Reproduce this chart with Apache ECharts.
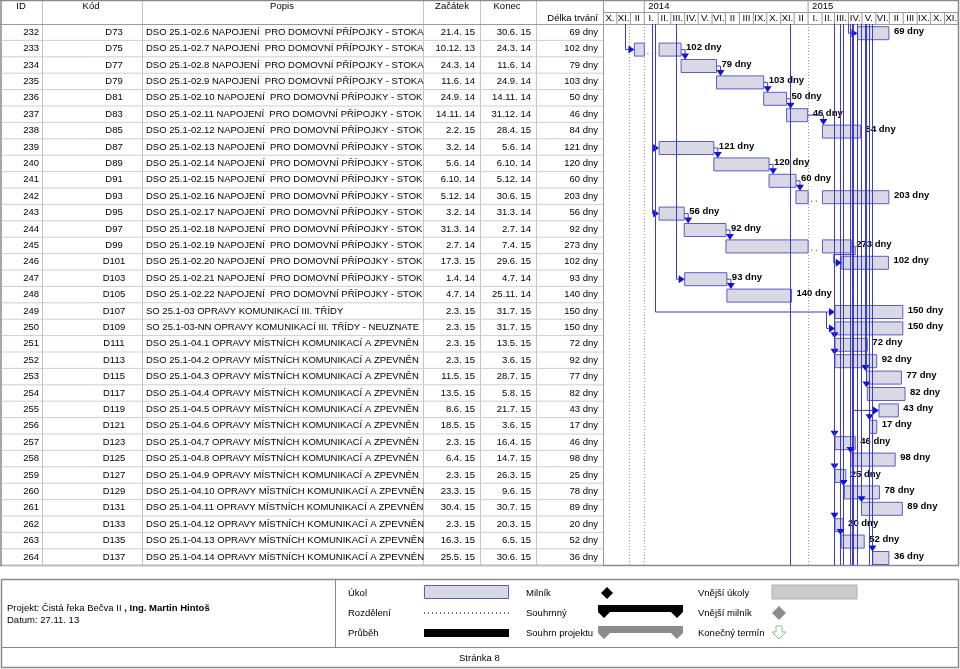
<!DOCTYPE html>
<html><head><meta charset="utf-8">
<script src="https://cdn.jsdelivr.net/npm/echarts@6/dist/echarts.min.js"></script>
<style>html,body{margin:0;padding:0;background:#fff}#c{width:960px;height:669px}</style>
</head><body><div id="c"></div>
<script>
// ---------------- DATA ----------------
const ids = [232,233,234,235,236,237,238,239,240,241,242,243,244,245,246,247,248,249,250,251,252,253,254,255,256,257,258,259,260,261,262,263,264];
const codes = ['D73','D75','D77','D79','D81','D83','D85','D87','D89','D91','D93','D95','D97','D99','D101','D103','D105','D107','D109','D111','D113','D115','D117','D119','D121','D123','D125','D127','D129','D131','D133','D135','D137'];
const names = [
 'DSO 25.1-02.6 NAPOJENÍ  PRO DOMOVNÍ PŘÍPOJKY - STOKA',
 'DSO 25.1-02.7 NAPOJENÍ  PRO DOMOVNÍ PŘÍPOJKY - STOKA',
 'DSO 25.1-02.8 NAPOJENÍ  PRO DOMOVNÍ PŘÍPOJKY - STOKA',
 'DSO 25.1-02.9 NAPOJENÍ  PRO DOMOVNÍ PŘÍPOJKY - STOKA',
 'DSO 25.1-02.10 NAPOJENÍ  PRO DOMOVNÍ PŘÍPOJKY - STOKA',
 'DSO 25.1-02.11 NAPOJENÍ  PRO DOMOVNÍ PŘÍPOJKY - STOKA',
 'DSO 25.1-02.12 NAPOJENÍ  PRO DOMOVNÍ PŘÍPOJKY - STOKA',
 'DSO 25.1-02.13 NAPOJENÍ  PRO DOMOVNÍ PŘÍPOJKY - STOKA',
 'DSO 25.1-02.14 NAPOJENÍ  PRO DOMOVNÍ PŘÍPOJKY - STOKA',
 'DSO 25.1-02.15 NAPOJENÍ  PRO DOMOVNÍ PŘÍPOJKY - STOKA',
 'DSO 25.1-02.16 NAPOJENÍ  PRO DOMOVNÍ PŘÍPOJKY - STOKA',
 'DSO 25.1-02.17 NAPOJENÍ  PRO DOMOVNÍ PŘÍPOJKY - STOKA',
 'DSO 25.1-02.18 NAPOJENÍ  PRO DOMOVNÍ PŘÍPOJKY - STOKA',
 'DSO 25.1-02.19 NAPOJENÍ  PRO DOMOVNÍ PŘÍPOJKY - STOKA',
 'DSO 25.1-02.20 NAPOJENÍ  PRO DOMOVNÍ PŘÍPOJKY - STOKA',
 'DSO 25.1-02.21 NAPOJENÍ  PRO DOMOVNÍ PŘÍPOJKY - STOKA',
 'DSO 25.1-02.22 NAPOJENÍ  PRO DOMOVNÍ PŘÍPOJKY - STOKA',
 'SO 25.1-03 OPRAVY KOMUNIKACÍ III. TŘÍDY',
 'SO 25.1-03-NN OPRAVY KOMUNIKACÍ III. TŘÍDY - NEUZNATELNÉ',
 'DSO 25.1-04.1 OPRAVY MÍSTNÍCH KOMUNIKACÍ A ZPEVNĚNÝCH PLOCH',
 'DSO 25.1-04.2 OPRAVY MÍSTNÍCH KOMUNIKACÍ A ZPEVNĚNÝCH PLOCH',
 'DSO 25.1-04.3 OPRAVY MÍSTNÍCH KOMUNIKACÍ A ZPEVNĚNÝCH PLOCH',
 'DSO 25.1-04.4 OPRAVY MÍSTNÍCH KOMUNIKACÍ A ZPEVNĚNÝCH PLOCH',
 'DSO 25.1-04.5 OPRAVY MÍSTNÍCH KOMUNIKACÍ A ZPEVNĚNÝCH PLOCH',
 'DSO 25.1-04.6 OPRAVY MÍSTNÍCH KOMUNIKACÍ A ZPEVNĚNÝCH PLOCH',
 'DSO 25.1-04.7 OPRAVY MÍSTNÍCH KOMUNIKACÍ A ZPEVNĚNÝCH PLOCH',
 'DSO 25.1-04.8 OPRAVY MÍSTNÍCH KOMUNIKACÍ A ZPEVNĚNÝCH PLOCH',
 'DSO 25.1-04.9 OPRAVY MÍSTNÍCH KOMUNIKACÍ A ZPEVNĚNÝCH PLOCH',
 'DSO 25.1-04.10 OPRAVY MÍSTNÍCH KOMUNIKACÍ A ZPEVNĚNÝCH PLOCH',
 'DSO 25.1-04.11 OPRAVY MÍSTNÍCH KOMUNIKACÍ A ZPEVNĚNÝCH PLOCH',
 'DSO 25.1-04.12 OPRAVY MÍSTNÍCH KOMUNIKACÍ A ZPEVNĚNÝCH PLOCH',
 'DSO 25.1-04.13 OPRAVY MÍSTNÍCH KOMUNIKACÍ A ZPEVNĚNÝCH PLOCH',
 'DSO 25.1-04.14 OPRAVY MÍSTNÍCH KOMUNIKACÍ A ZPEVNĚNÝCH PLOCH'
];
const starts = ['21.4. 15','10.12. 13','24.3. 14','11.6. 14','24.9. 14','14.11. 14','2.2. 15','3.2. 14','5.6. 14','6.10. 14','5.12. 14','3.2. 14','31.3. 14','2.7. 14','17.3. 15','1.4. 14','4.7. 14','2.3. 15','2.3. 15','2.3. 15','2.3. 15','11.5. 15','13.5. 15','8.6. 15','18.5. 15','2.3. 15','6.4. 15','2.3. 15','23.3. 15','30.4. 15','2.3. 15','16.3. 15','25.5. 15'];
const ends = ['30.6. 15','24.3. 14','11.6. 14','24.9. 14','14.11. 14','31.12. 14','28.4. 15','5.6. 14','6.10. 14','5.12. 14','30.6. 15','31.3. 14','2.7. 14','7.4. 15','29.6. 15','4.7. 14','25.11. 14','31.7. 15','31.7. 15','13.5. 15','3.6. 15','28.7. 15','5.8. 15','21.7. 15','3.6. 15','16.4. 15','14.7. 15','26.3. 15','9.6. 15','30.7. 15','20.3. 15','6.5. 15','30.6. 15'];
const durations = ['69 dny','102 dny','79 dny','103 dny','50 dny','46 dny','84 dny','121 dny','120 dny','60 dny','203 dny','56 dny','92 dny','273 dny','102 dny','93 dny','140 dny','150 dny','150 dny','72 dny','92 dny','77 dny','82 dny','43 dny','17 dny','46 dny','98 dny','25 dny','78 dny','89 dny','20 dny','52 dny','36 dny'];

// task splits (interruptions)
const splitTask = [233, 242, 245];
const splitFrom = ['1.1.14', '1.1.15', '1.1.15'];
const splitTo   = ['3.2.14', '2.2.15', '2.2.15'];

// timeline header
const timelineStart = '1.10.13', timelineEnd = '1.12.15';
const yearLabels = ['2014', '2015'];
const yearStarts = ['1.1.14', '1.1.15'];
const monthLabels = ['X.','XI.','II','I.','II.','III.','IV.','V.','VI.','II','III','IX.','X.','XI.','II','I.','II.','III.','IV.','V.','VI.','II','III','IX.','X.','XI.'];
const dottedDates = ['27.11.13', '1.1.14', '1.1.15'];

// links (finish-to-start) between visible tasks
const linkFrom = [233,234,235,236,237,239,240,241,243,244,245,247];
const linkTo   = [234,235,236,237,238,240,241,242,244,245,246,248];
// links arriving from the side (predecessor on another page / row)
const sideTask = [232, 233, 239, 243, 247, 249, 250, 255];
const sideLine = ['31.3.15','19.11.13','18.1.14','18.1.14','12.3.14','25.1.14','10.2.15','10.4.15'];
const sideFromRow = [null, null, null, null, null, null, 249, null];
// links arriving from above (down arrows)
const dropTask = [251,252,253,254,256,257,258,259,260,261,262,263,264];
// link lines passing the whole page
const passLines = ['25.11.14','2.3.15','16.3.15','23.3.15','6.4.15','10.4.15','14.4.15','22.4.15','18.5.15','25.5.15'];

// ---------------- HELPERS ----------------
const parseD = s => { const p = s.replace(/\s/g, '').split('.'); return new Date(2000 + (+p[2]), (+p[1]) - 1, +p[0]).getTime(); };
const T0 = parseD(timelineStart), T1 = parseD(timelineEnd);
const FONT = '"Liberation Sans", Arial, Helvetica, sans-serif';
const TFONT = '9.5px ' + FONT;
const LINE = '#3c3cc8', ARROW = '#1212e0';
const BAR_FILL = '#d9d9e6', BAR_STROKE = '#5c5cc6';
const N = ids.length;
const rowIdx = id => ids.indexOf(id);
const monthStarts = monthLabels.map((_, k) => new Date(2013, 9 + k, 1).getTime());

// cell clipping like the original table (cut at column border)
const mctx = document.createElement('canvas').getContext('2d');
function fitText(s, w) {
  mctx.font = TFONT;
  let out = '';
  for (const ch of s) {
    const nw = mctx.measureText(out + ch).width;
    const cw = mctx.measureText(ch).width;
    if (nw - cw * 0.35 > w) break;
    out += ch;
  }
  return out;
}

function geo(api, i) {
  const h = api.size([0, 1])[1];
  const y = api.coord([T0, i])[1];
  return { y, h };
}
const xOf = (api, t) => api.coord([t, 0])[0];
function gridY(api) {
  const h = api.size([0, 1])[1];
  return { top: api.coord([T0, 0])[1] - h / 2, bottom: api.coord([T0, N - 1])[1] + h / 2 };
}
function txt(text, x, y, align, font, extra) {
  return { type: 'text', style: Object.assign({ text, x, y, align, textAlign: align, verticalAlign: 'middle', textVerticalAlign: 'middle', font: font || TFONT, fill: '#000' }, extra || {}) };
}
const arrowRight = (x, y) => ({ type: 'polygon', shape: { points: [[x, y], [x - 6, y - 4], [x - 6, y + 4]] }, style: { fill: ARROW } });
const arrowDown = (x, y) => ({ type: 'polygon', shape: { points: [[x, y], [x - 4, y - 6], [x + 4, y - 6]] }, style: { fill: ARROW } });
const seg = (pts) => ({ type: 'polyline', shape: { points: pts }, style: { stroke: LINE, lineWidth: 1, fill: null } });
const BAR_H = 13;
const barTop = (y) => y + 1 - BAR_H / 2;

// ---------------- SERIES ----------------
const tableSeries = {
  type: 'custom', z: 1, silent: true,
  data: ids.map((_, i) => [T0, i]), encode: { x: 0, y: 1 },
  renderItem(params, api) {
    const i = params.dataIndex; const { y, h } = geo(api, i);
    return { type: 'group', children: [
      { type: 'line', shape: { x1: 2, y1: y + h / 2, x2: 603, y2: y + h / 2 }, style: { stroke: '#cfcfcf', lineWidth: 1 } },
      txt(String(ids[i]), 39, y, 'right'),
      txt(codes[i], 114, y, 'center'),
      txt(fitText(names[i], 276), 146, y, 'left'),
      txt(starts[i], 475, y, 'right'),
      txt(ends[i], 531, y, 'right'),
      txt(durations[i], 598, y, 'right')
    ] };
  }
};

const monthSeries = {
  type: 'custom', z: 1, silent: true,
  data: monthStarts.map((t) => [t, 0]), encode: { x: 0, y: 1 },
  renderItem(params, api) {
    const k = params.dataIndex;
    const top = gridY(api).top;
    const x0 = xOf(api, monthStarts[k]);
    const x1 = xOf(api, k + 1 < monthStarts.length ? monthStarts[k + 1] : T1);
    return { type: 'group', children: [
      { type: 'line', shape: { x1: x1, y1: top - 12, x2: x1, y2: top }, style: { stroke: '#9a9a9a', lineWidth: 1 } },
      txt(monthLabels[k], (x0 + x1) / 2, top - 5.5, 'center')
    ] };
  }
};

const yearSeries = {
  type: 'custom', z: 1, silent: true,
  data: yearStarts.map(s => [parseD(s), 0]), encode: { x: 0, y: 1 },
  renderItem(params, api) {
    const k = params.dataIndex;
    const top = gridY(api).top;
    const x0 = xOf(api, parseD(yearStarts[k]));
    return { type: 'group', children: [
      { type: 'line', shape: { x1: x0, y1: 0, x2: x0, y2: top - 12 }, style: { stroke: '#9a9a9a', lineWidth: 1 } },
      txt(yearLabels[k], x0 + 4, 6.5, 'left')
    ] };
  }
};

const dottedSeries = {
  type: 'custom', z: 2, silent: true,
  data: dottedDates.map(s => [parseD(s), 0]), encode: { x: 0, y: 1 },
  renderItem(params, api) {
    const g = gridY(api); const x = Math.round(xOf(api, api.value(0))) + 0.5;
    return { type: 'line', shape: { x1: x, y1: g.top, x2: x, y2: g.bottom }, style: { stroke: '#9a9a9a', lineWidth: 1, lineDash: [1, 2] } };
  }
};

const barSeries = {
  type: 'custom', z: 3, silent: true,
  data: ids.map((_, i) => [parseD(starts[i]), i, parseD(ends[i])]), encode: { x: [0, 2], y: 1 },
  renderItem(params, api) {
    const i = params.dataIndex;
    const s = api.value(0), e = api.value(2);
    const { y } = geo(api, i);
    const children = [];
    let parts = [[s, e]];
    const k = splitTask.indexOf(ids[i]);
    if (k >= 0) {
      const a = parseD(splitFrom[k]), b = parseD(splitTo[k]);
      parts = [[s, a], [b, e]];
      const xa = xOf(api, a), xb = xOf(api, b);
      children.push({ type: 'line', shape: { x1: xa + 3, y1: y + 5, x2: xb - 2, y2: y + 5 }, style: { stroke: '#8a8a8a', lineWidth: 1.5, lineDash: [1.2, 3.5] } });
    }
    parts.forEach(([a, b]) => {
      const xa = xOf(api, a), xb = xOf(api, b);
      children.push({ type: 'rect', shape: { x: xa, y: barTop(y), width: xb - xa, height: BAR_H }, style: { fill: BAR_FILL, stroke: BAR_STROKE, lineWidth: 1 } });
    });
    children.push(txt(durations[i], xOf(api, e) + 5, y - 1, 'left', 'bold 9.5px ' + FONT));
    return { type: 'group', children };
  }
};

const linkSeries = {
  type: 'custom', z: 4, silent: true,
  data: linkFrom.map((f, k) => [parseD(ends[rowIdx(f)]), rowIdx(f), parseD(starts[rowIdx(linkTo[k])]), rowIdx(linkTo[k])]),
  encode: { x: [0, 2], y: [1, 3] },
  renderItem(params, api) {
    const xe = xOf(api, api.value(0)), xs = xOf(api, api.value(2));
    const p = geo(api, api.value(1)), q = geo(api, api.value(3));
    const yp = p.y + 1, ts = barTop(q.y);
    if (xs >= xe - 1) {
      const ax = Math.max(xs + 1, xe + 4);
      return { type: 'group', children: [seg([[xe, yp], [ax, yp], [ax, ts - 5]]), arrowDown(ax, ts)] };
    }
    const yb = p.y + p.h / 2 + 1;
    return { type: 'group', children: [seg([[xe, yp], [xe + 4, yp], [xe + 4, yb], [xs - 8, yb], [xs - 8, q.y + 1], [xs - 5, q.y + 1]]), arrowRight(xs, q.y + 1)] };
  }
};

const passSeries = {
  type: 'custom', z: 4, silent: true,
  data: passLines.map(s => [parseD(s), 0]), encode: { x: 0, y: 1 },
  renderItem(params, api) {
    const g = gridY(api); const x = Math.round(xOf(api, api.value(0))) - 0.5;
    return { type: 'line', shape: { x1: x, y1: g.top, x2: x, y2: g.bottom }, style: { stroke: LINE, lineWidth: 1 } };
  }
};

const sideSeries = {
  type: 'custom', z: 4, silent: true,
  data: sideTask.map((t, k) => [parseD(sideLine[k]), rowIdx(t), parseD(starts[rowIdx(t)])]), encode: { x: [0, 2], y: 1 },
  renderItem(params, api) {
    const k = params.dataIndex;
    const g = gridY(api);
    const xl = Math.round(xOf(api, api.value(0))) + 0.5, xs = xOf(api, api.value(2));
    const q = geo(api, api.value(1));
    const y0 = sideFromRow[k] == null ? g.top : geo(api, rowIdx(sideFromRow[k])).y + 1;
    const yc = q.y + 1;
    return { type: 'group', children: [seg([[xl, y0], [xl, yc], [xs - 5, yc]]), arrowRight(xs, yc)] };
  }
};

const dropSeries = {
  type: 'custom', z: 4, silent: true,
  data: dropTask.map(t => [parseD(starts[rowIdx(t)]), rowIdx(t)]), encode: { x: 0, y: 1 },
  renderItem(params, api) {
    const g = gridY(api);
    const x = Math.round(xOf(api, api.value(0))) - 0.5;
    const q = geo(api, api.value(1));
    const ts = barTop(q.y);
    return { type: 'group', children: [seg([[x, g.top], [x, ts - 5]]), arrowDown(x, ts)] };
  }
};

// ---------------- STATIC FRAME / FOOTER ----------------
const G = [];
const gl = (x1, y1, x2, y2, stroke, w, dash) => G.push({ type: 'line', silent: true, z: 0, shape: { x1, y1, x2, y2 }, style: { stroke, lineWidth: w || 1, lineDash: dash } });
const gt = (text, x, y, align, font) => G.push({ type: 'text', silent: true, z: 5, style: { text, x, y, align: align || 'left', textAlign: align || 'left', verticalAlign: 'middle', textVerticalAlign: 'middle', font: font || TFONT, fill: '#000' } });

[42.5, 142.5, 423.5, 480.5, 536.5].forEach(x => gl(x, 0, x, 565, '#c4c4c4'));
gl(603.5, 0, 603.5, 565, '#9a9a9a');
gl(603, 12.5, 958, 12.5, '#9a9a9a');
gl(0, 24.5, 958, 24.5, '#9a9a9a');
gl(0, 0.5, 959, 0.5, '#8a8a8a', 1.5);
gl(1, 0, 1, 565, '#8a8a8a', 1.5);
gl(958.5, 0, 958.5, 565, '#8a8a8a', 1.5);
gl(0, 565.5, 959, 565.5, '#8a8a8a', 1.5);
gt('ID', 21, 6.5, 'center'); gt('Kód', 91, 6.5, 'center'); gt('Popis', 282, 6.5, 'center');
gt('Začátek', 452, 6.5, 'center'); gt('Konec', 507, 6.5, 'center'); gt('Délka trvání', 598, 18, 'right');

// footer
G.push({ type: 'rect', silent: true, shape: { x: 1.5, y: 579.5, width: 957, height: 88 }, style: { fill: null, stroke: '#8a8a8a', lineWidth: 1.5 } });
gl(335.5, 579.5, 335.5, 647.5, '#8a8a8a');
gl(1.5, 647.5, 958.5, 647.5, '#8a8a8a');
G.push({ type: 'text', silent: true, style: { rich: { b: { font: 'bold 9.5px ' + FONT, fill: '#000' } }, text: 'Projekt: Čistá řeka Bečva II {b|, Ing. Martin Hintoš}', x: 7, y: 608, verticalAlign: 'middle', textVerticalAlign: 'middle', font: TFONT, fill: '#000' } });
gt('Datum: 27.11. 13', 7, 620);
gt('Úkol', 348, 593); gt('Rozdělení', 348, 613); gt('Průběh', 348, 633);
gt('Milník', 526, 593); gt('Souhrnný', 526, 613); gt('Souhrn projektu', 526, 633);
gt('Vnější úkoly', 698, 593); gt('Vnější milník', 698, 613); gt('Konečný termín', 698, 633);
gt('Stránka 8', 459, 658);
G.push({ type: 'rect', silent: true, shape: { x: 424.5, y: 585.5, width: 84, height: 13 }, style: { fill: BAR_FILL, stroke: BAR_STROKE, lineWidth: 1 } });
gl(424, 613, 509, 613, '#777', 2, [1, 3]);
G.push({ type: 'rect', silent: true, shape: { x: 424, y: 629, width: 85, height: 8 }, style: { fill: '#000' } });
G.push({ type: 'polygon', silent: true, shape: { points: [[607, 587], [613, 593], [607, 599], [601, 593]] }, style: { fill: '#000' } });
const summ = (y, c) => G.push({ type: 'polygon', silent: true, shape: { points: [[598, y], [683, y], [683, y + 7], [677, y + 13], [671, y + 7], [610, y + 7], [604, y + 13], [598, y + 7]] }, style: { fill: c } });
summ(605, '#000'); summ(626, '#8c8c8c');
G.push({ type: 'rect', silent: true, shape: { x: 772, y: 585, width: 85, height: 14 }, style: { fill: '#cbcbcb', stroke: '#b0b0b0', lineWidth: 1 } });
G.push({ type: 'polygon', silent: true, shape: { points: [[779, 606], [786, 613], [779, 620], [772, 613]] }, style: { fill: '#8c8c8c' } });
G.push({ type: 'polygon', silent: true, shape: { points: [[776, 626], [782, 626], [782, 632], [786, 632], [779, 639], [772, 632], [776, 632]] }, style: { fill: '#fff', stroke: '#86c486', lineWidth: 1 } });

// ---------------- CHART ----------------
const chart = echarts.init(document.getElementById('c'), null, { renderer: 'canvas' });
chart.setOption({
  animation: false,
  backgroundColor: '#fff',
  grid: { left: 603, top: 24, width: 355, height: 16.4 * N, containLabel: false },
  xAxis: { type: 'time', min: T0, max: T1, show: false },
  yAxis: { type: 'category', data: ids.map(String), inverse: true, show: false },
  graphic: { elements: G },
  series: [tableSeries, monthSeries, yearSeries, dottedSeries, barSeries, passSeries, sideSeries, dropSeries, linkSeries]
});
</script>
</body></html>
